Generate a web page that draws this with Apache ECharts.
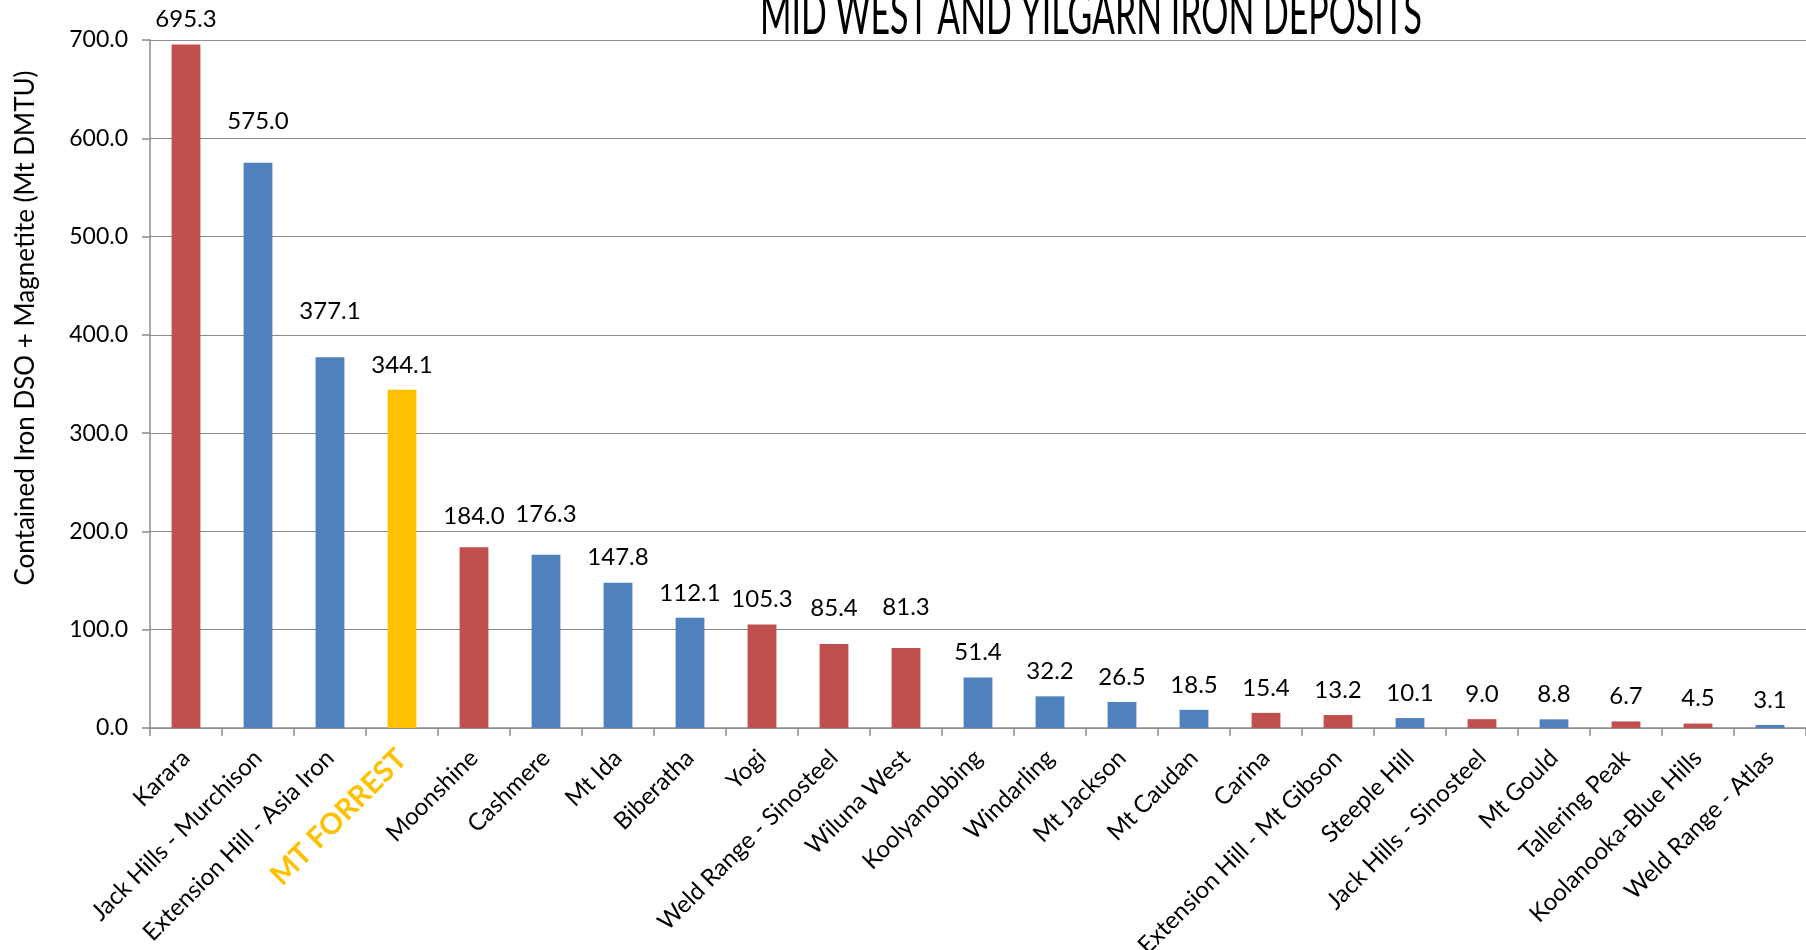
<!DOCTYPE html>
<html>
<head>
<meta charset="utf-8">
<script src="https://cdn.jsdelivr.net/npm/echarts@6/dist/echarts.min.js"></script>
<style>
  html, body { margin: 0; padding: 0; background: #ffffff; }
  #chart { width: 1806px; height: 950px; }
</style>
</head>
<body>
<div id="chart"></div>
<script>
// Deposits, ordered by contained iron (Mt DMTU)
const deposits = [
  'Karara', 'Jack Hills - Murchison', 'Extension Hill - Asia Iron', 'MT FORREST',
  'Moonshine', 'Cashmere', 'Mt Ida', 'Biberatha', 'Yogi', 'Weld Range - Sinosteel',
  'Wiluna West', 'Koolyanobbing', 'Windarling', 'Mt Jackson', 'Mt Caudan', 'Carina',
  'Extension Hill - Mt Gibson', 'Steeple Hill', 'Jack Hills - Sinosteel', 'Mt Gould',
  'Tallering Peak', 'Koolanooka-Blue Hills', 'Weld Range - Atlas'
];
const containedIron = [
  695.3, 575.0, 377.1, 344.1, 184.0, 176.3, 147.8, 112.1, 105.3, 85.4,
  81.3, 51.4, 32.2, 26.5, 18.5, 15.4, 13.2, 10.1, 9.0, 8.8, 6.7, 4.5, 3.1
];
// Bar group of each deposit: 'A' or 'B', 'H' is the highlighted project
const depositGroup = [
  'A', 'B', 'B', 'H', 'A', 'B', 'B', 'B', 'A', 'A',
  'A', 'B', 'B', 'B', 'B', 'A', 'A', 'B', 'A', 'B', 'A', 'A', 'B'
];
const highlighted = 'MT FORREST';
const yTickStep = 100;
const yMax = 700;

// Styling
const groupColors = { A: '#C0504D', B: '#4F81BD', H: '#FFC000' };
// extra lift (px) for a few value labels that sit higher above their bars
const labelLift = { 'Jack Hills - Murchison': 17, 'Extension Hill - Asia Iron': 21, 'Moonshine': 6,
                    'Cashmere': 15, 'Weld Range - Sinosteel': 11, 'Wiluna West': 16 };
const FONT = 'Lato';
const gridColor = '#8C8C8C';

const chart = echarts.init(document.getElementById('chart'), null, { renderer: 'canvas' });

// Title is drawn horizontally condensed
const titleText = 'MID WEST AND YILGARN IRON DEPOSITS';
const titleSize = 58;
const ctx = document.createElement('canvas').getContext('2d');
ctx.font = titleSize + 'px ' + FONT;
const titleScale = 662 / ctx.measureText(titleText).width;

const barData = containedIron.map((v, i) => {
  const name = deposits[i];
  const lift = labelLift[name] || 0;
  return {
    value: v,
    itemStyle: { color: groupColors[depositGroup[i]] },
    label: { distance: 13 + lift }
  };
});

chart.setOption({
  animation: false,
  backgroundColor: '#ffffff',
  grid: { left: 150, right: 0, top: 40, bottom: 222, containLabel: false, outerBoundsMode: 'none' },
  graphic: [
    {
      type: 'text', x: 1091, y: 44, scaleX: titleScale, scaleY: 1,
      style: { text: titleText, font: titleSize + 'px ' + FONT, fill: '#000000', align: 'center', verticalAlign: 'bottom' }
    },
    {
      type: 'text', x: 26, y: 328, rotation: Math.PI / 2,
      style: { text: 'Contained Iron DSO + Magnetite (Mt DMTU)', font: '26px ' + FONT, fill: '#000000', align: 'center', verticalAlign: 'middle' }
    }
  ],
  xAxis: {
    type: 'category',
    data: deposits,
    axisLine: { show: true, lineStyle: { color: gridColor, width: 1.5 } },
    axisTick: { show: true, alignWithLabel: false, length: 8, lineStyle: { color: gridColor, width: 1.5 } },
    axisLabel: {
      interval: 0, rotate: 45, margin: 26,
      fontFamily: FONT, fontSize: 24, color: '#000000',
      formatter: v => v === highlighted ? '{hi|' + v + '}' : v,
      rich: { hi: { fontFamily: FONT, fontSize: 29, fontWeight: 'bold', color: '#FFC000' } }
    }
  },
  yAxis: {
    type: 'value',
    min: 0, max: yMax, interval: yTickStep,
    axisLine: { show: true, lineStyle: { color: gridColor, width: 1.5 } },
    axisTick: { show: true, length: 8, lineStyle: { color: gridColor, width: 1.5 } },
    splitLine: { show: true, lineStyle: { color: gridColor, width: 1.2 } },
    axisLabel: { margin: 22, fontFamily: FONT, fontSize: 23, color: '#000000', formatter: v => v.toFixed(1) }
  },
  series: [{
    type: 'bar',
    data: barData,
    barWidth: '40%',
    label: {
      show: true, position: 'top', distance: 13,
      fontFamily: FONT, fontSize: 24, color: '#000000',
      formatter: p => p.value.toFixed(1)
    }
  }]
});
</script>
</body>
</html>
